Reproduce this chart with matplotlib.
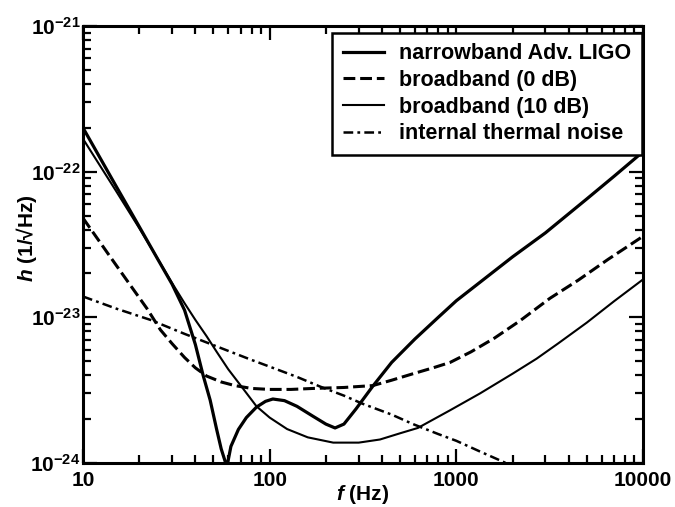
import matplotlib
matplotlib.use('Agg')
import matplotlib.pyplot as plt

plt.rcParams['font.family'] = ['Liberation Sans', 'DejaVu Sans']
plt.rcParams['font.weight'] = 'bold'
plt.rcParams['axes.labelweight'] = 'bold'
plt.rcParams['mathtext.fontset'] = 'custom'
plt.rcParams['mathtext.rm'] = 'Liberation Sans:bold'
plt.rcParams['mathtext.it'] = 'Liberation Sans:italic:bold'
plt.rcParams['axes.unicode_minus'] = False
plt.rcParams['lines.scale_dashes'] = False

# narrowband Adv. LIGO
f_nb = [10, 15, 20, 25, 30, 35, 40, 44, 48, 52, 55, 59, 62, 68, 75, 85, 95, 104, 120, 140,
        170, 200, 224, 250, 290, 357, 450, 600, 800, 1000, 1500, 2000, 3000, 5000, 7000, 10000]
h_nb = [2.0e-22, 8.0e-23, 4.2e-23, 2.54e-23, 1.69e-23, 1.12e-23, 6.5e-24, 4.0e-24, 2.7e-24, 1.7e-24,
        1.25e-24, 0.94e-24, 1.3e-24, 1.7e-24, 2.05e-24, 2.42e-24, 2.65e-24, 2.75e-24, 2.68e-24, 2.45e-24,
        2.1e-24, 1.85e-24, 1.74e-24, 1.85e-24, 2.35e-24, 3.37e-24, 4.9e-24, 7.1e-24, 1.0e-23, 1.3e-23,
        1.95e-23, 2.6e-23, 3.8e-23, 6.5e-23, 9.3e-23, 1.37e-22]

# broadband (0 dB)
f_0db = [10, 14, 18, 22, 26, 30, 35, 40, 46, 55, 65, 80, 100, 130, 171, 250, 357, 450, 586,
         750, 925, 1200, 1600, 2200, 3170, 4500, 6500, 10000]
h_0db = [4.8e-23, 2.6e-23, 1.65e-23, 1.15e-23, 8.2e-24, 6.6e-24, 5.3e-24, 4.5e-24, 3.95e-24, 3.6e-24,
         3.4e-24, 3.25e-24, 3.2e-24, 3.2e-24, 3.25e-24, 3.3e-24, 3.4e-24, 3.7e-24, 4.1e-24,
         4.5e-24, 4.9e-24, 5.8e-24, 7.2e-24, 9.5e-24, 1.35e-23, 1.8e-23, 2.5e-23, 3.6e-23]

# broadband (10 dB)
f_10db = [10, 15, 20, 25, 30, 35, 40, 46, 52, 60, 70, 85, 100, 124, 160, 219, 300, 390, 500, 622,
          925, 1337, 2000, 2690, 3500, 5000, 7000, 10000]
h_10db = [1.68e-22, 7.4e-23, 4.1e-23, 2.55e-23, 1.72e-23, 1.25e-23, 9.6e-24, 7.4e-24, 5.8e-24, 4.4e-24,
          3.4e-24, 2.45e-24, 2.05e-24, 1.71e-24, 1.5e-24, 1.38e-24, 1.38e-24, 1.45e-24, 1.6e-24, 1.74e-24,
          2.3e-24, 3.0e-24, 4.1e-24, 5.2e-24, 6.6e-24, 9.2e-24, 1.29e-23, 1.82e-23]

# internal thermal noise
f_th = [10, 15, 23, 35, 54, 80, 104, 140, 186, 250, 315, 450, 586, 800, 1000, 1337, 1780, 2000]
h_th = [1.39e-23, 1.15e-23, 9.6e-24, 7.7e-24, 6.2e-24, 5.1e-24, 4.5e-24, 3.9e-24, 3.35e-24, 2.9e-24,
        2.55e-24, 2.15e-24, 1.85e-24, 1.58e-24, 1.42e-24, 1.2e-24, 1.02e-24, 0.95e-24]

x_ticks = [10, 100, 1000, 10000]
x_ticklabels = ['10', '100', '1000', '10000']

fig = plt.figure(figsize=(6.75, 5.07), dpi=100)
ax = fig.add_axes([83 / 675, 44 / 507, 560 / 675, 437 / 507])

ax.plot(f_nb, h_nb, color='black', lw=2.3, label='narrowband Adv. LIGO')
ax.plot(f_0db, h_0db, color='black', lw=2.2, linestyle=(0, (8.5, 3.5)), label='broadband (0 dB)')
ax.plot(f_10db, h_10db, color='black', lw=1.5, label='broadband (10 dB)')
ax.plot(f_th, h_th, color='black', lw=1.8, linestyle=(0, (7, 3, 2, 3)), label='internal thermal noise')

ax.set_xscale('log')
ax.set_yscale('log')
ax.set_xlim(10, 10000)
ax.set_ylim(1e-24, 1e-21)
ax.set_xticks(x_ticks)
ax.set_xticklabels(x_ticklabels)

for s in ax.spines.values():
    s.set_linewidth(2.2)
ax.tick_params(which='both', direction='in', top=True, right=True, width=1.6, labelsize=15)
ax.tick_params(which='major', length=10)
ax.tick_params(which='minor', length=5.5)
ax.tick_params(axis='x', pad=6)
ax.tick_params(axis='y', pad=2)

ax.set_xlabel('$f$ (Hz)', fontsize=15)
ax.set_ylabel('$h$ (1/√Hz)', fontsize=15)
ax.xaxis.set_label_coords(0.5, -0.045)
ax.yaxis.set_label_coords(-0.078, 0.515)

leg = ax.legend(loc='upper right', bbox_to_anchor=(0.998, 0.985), borderaxespad=0, fontsize=15.5,
                frameon=True, fancybox=False, edgecolor='black', framealpha=1,
                handlelength=1.9, handletextpad=0.7, labelspacing=0.26, borderpad=0.5)
leg.get_frame().set_linewidth(1.8)

plt.savefig('out.png', dpi=100)
